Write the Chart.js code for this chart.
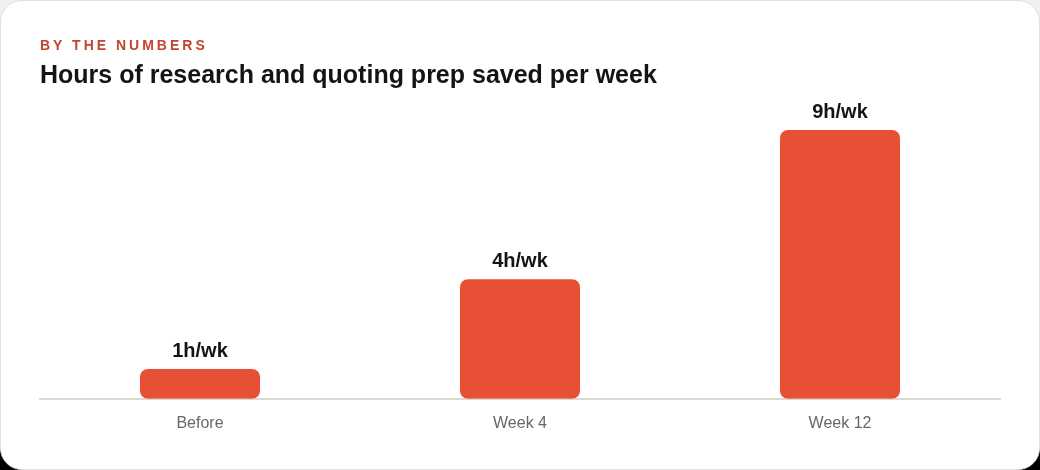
<!DOCTYPE html>
<html>
<head>
<meta charset="utf-8">
<script src="https://cdn.jsdelivr.net/npm/chart.js@4"></script>
<style>
  html, body { margin: 0; padding: 0; }
  body {
    width: 1040px; height: 470px; overflow: hidden;
    background: linear-gradient(#f2f1ee 50%, #000 50%);
    font-family: "Liberation Sans", Arial, sans-serif;
  }
  .card {
    position: absolute; left: 0; top: 0;
    width: 1038px; height: 468px;
    background: #fff;
    border: 1px solid #e3e1dd;
    border-radius: 22px;
  }
  .kicker {
    position: absolute; left: 40px; top: 37px;
    font-size: 14px; font-weight: bold; letter-spacing: 3px;
    color: #c4452e;
  }
  .title {
    position: absolute; left: 40px; top: 60px;
    font-size: 25px; font-weight: bold; color: #141414;
  }
  #chart { position: absolute; left: 0; top: 0; }
</style>
</head>
<body>
<div class="card"></div>
<canvas id="chart" width="1040" height="470"></canvas>
<div class="kicker">BY THE NUMBERS</div>
<div class="title">Hours of research and quoting prep saved per week</div>
<script>
var categories = ['Before', 'Week 4', 'Week 12'];
var hoursSaved = [1, 4, 9];
var unitSuffix = 'h/wk';
var yTicks = [0, 10];

// labels above each bar, e.g. "4h/wk"
var valueLabels = {
  id: 'valueLabels',
  afterDatasetsDraw: function (chart) {
    var ctx = chart.ctx;
    var meta = chart.getDatasetMeta(0);
    ctx.save();
    ctx.font = 'bold 20px "Liberation Sans", Arial, sans-serif';
    ctx.fillStyle = '#141414';
    ctx.textAlign = 'center';
    ctx.textBaseline = 'alphabetic';
    meta.data.forEach(function (bar, i) {
      ctx.fillText(hoursSaved[i] + unitSuffix, bar.x, bar.y - 12);
    });
    ctx.restore();
  }
};

var ctx = document.getElementById('chart').getContext('2d');
new Chart(ctx, {
  type: 'bar',
  data: {
    labels: categories,
    datasets: [{
      data: hoursSaved,
      backgroundColor: '#e85036',
      borderRadius: 8,
      borderSkipped: false,
      barPercentage: 0.375,
      categoryPercentage: 1
    }]
  },
  options: {
    responsive: false,
    animation: false,
    layout: { padding: { top: 100, left: 40, right: 40, bottom: 22 } },
    plugins: {
      legend: { display: false },
      tooltip: { enabled: false }
    },
    scales: {
      x: {
        grid: { display: false, drawTicks: false },
        border: { display: true, color: '#dcd9d5', width: 2 },
        ticks: {
          padding: 15,
          color: '#6b6661',
          font: { family: '"Liberation Sans", Arial, sans-serif', size: 16 }
        }
      },
      y: {
        display: false,
        min: yTicks[0],
        max: yTicks[1]
      }
    }
  },
  plugins: [valueLabels]
});
</script>
</body>
</html>
